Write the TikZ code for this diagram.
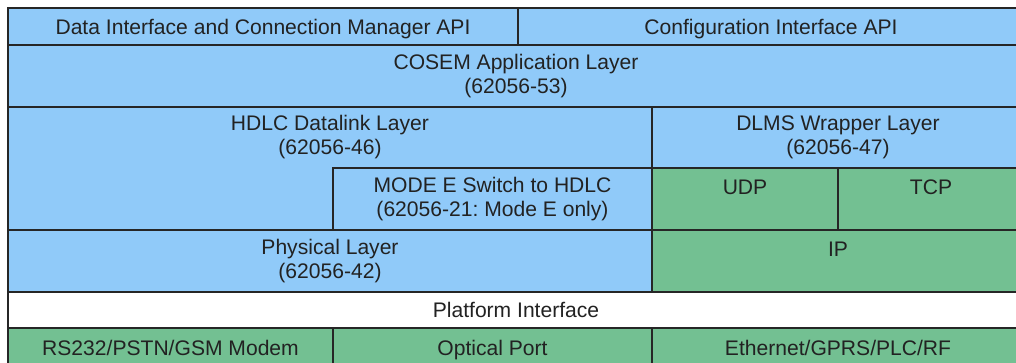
\documentclass[tikz,border=0pt]{standalone}
\usepackage{fontspec}
\setmainfont{Liberation Sans}
\usepackage{xcolor}
\usepackage{tikz}
\frenchspacing

\definecolor{layerblue}{RGB}{144,202,249}
\definecolor{layergreen}{RGB}{115,192,146}
\definecolor{edge}{RGB}{38,38,38}
\definecolor{ink}{RGB}{34,34,34}

\begin{document}
\begin{tikzpicture}[x=0.02cm, y=-0.02cm,
    blue box/.style={draw=edge, line width=1.1pt, fill=layerblue},
    green box/.style={draw=edge, line width=1.1pt, fill=layergreen},
    white box/.style={draw=edge, line width=1.1pt, fill=white},
    layer text/.style={text=ink, align=center, inner sep=0pt,
        font=\fontsize{12}{13.7}\selectfont}]
    \fill[white] (0,0) rectangle (1016,362);
    \clip (0,0) rectangle (1016,362);

    % API row
    \draw[blue box] (8,8) rectangle (518,45);
    \draw[blue box] (518,8) rectangle (1024,45);
    \node[layer text, anchor=base] (dataapi) at (263,34.5) {Data Interface and Connection Manager API};
    \node[layer text, anchor=base] (confapi) at (771,34.5) {Configuration Interface API};

    % application layer
    \draw[blue box] (8,45) rectangle (1024,107);
    \node[layer text] (cosem) at (516,76) {COSEM Application Layer\\(62056-53)};

    % HDLC side
    \draw[blue box] (8,107) -- (652,107) -- (652,168) -- (333,168)
        -- (333,230) -- (8,230) -- cycle;
    \node[layer text] (hdlc) at (330,137.5) {HDLC Datalink Layer\\(62056-46)};
    \draw[blue box] (333,168) rectangle (652,230);
    \node[layer text] (modee) at (492.5,199) {MODE E Switch to HDLC\\(62056-21: Mode E only)};

    % IP side
    \draw[blue box] (652,107) rectangle (1024,168);
    \node[layer text] (dlms) at (838,137.5) {DLMS Wrapper Layer\\(62056-47)};
    \draw[green box] (652,168) rectangle (838,230);
    \draw[green box] (838,168) rectangle (1024,230);
    \node[layer text, anchor=base] (udp) at (745,194) {UDP};
    \node[layer text, anchor=base] (tcp) at (931,194) {TCP};

    % physical / IP
    \draw[blue box] (8,230) rectangle (652,292);
    \node[layer text] (phys) at (330,261) {Physical Layer\\(62056-42)};
    \draw[green box] (652,230) rectangle (1024,292);
    \node[layer text, anchor=base] (ip) at (838,256) {IP};

    % platform
    \draw[white box] (8,292) rectangle (1024,328);
    \node[layer text, anchor=base] (platform) at (516,317) {Platform Interface};

    % hardware ports
    \draw[green box] (8,328) rectangle (333,365);
    \draw[green box] (333,328) rectangle (652,365);
    \draw[green box] (652,328) rectangle (1024,365);
    \node[layer text, anchor=base] (modem) at (170.5,355) {RS232/PSTN/GSM Modem};
    \node[layer text, anchor=base] (optical) at (492.5,355) {Optical Port};
    \node[layer text, anchor=base] (ether) at (838,355) {Ethernet/GPRS/PLC/RF};
\end{tikzpicture}
\end{document}
